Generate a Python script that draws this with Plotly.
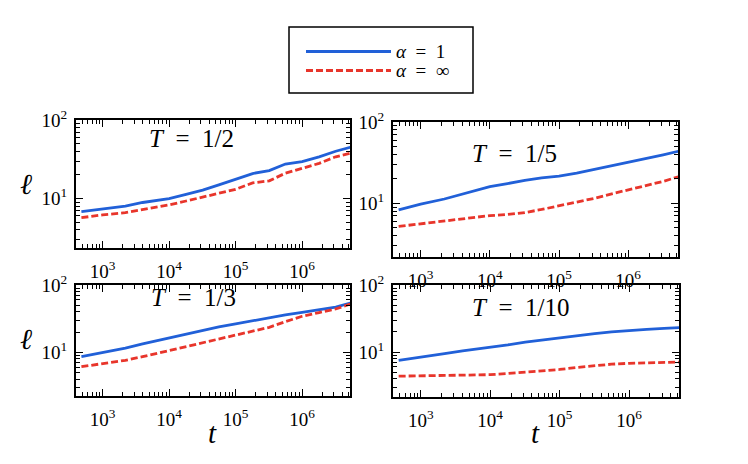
import plotly.graph_objects as go

# shared time grid (t)
t = [480, 1000, 2200, 4000, 10000, 18000, 32000, 56000, 100000, 180000,
     320000, 560000, 1000000, 1800000, 3200000, 5300000]

# T = 1/2
l_half_a1 = [6.8, 7.3, 8.0, 8.9, 10.0, 11.3, 12.8, 14.9, 17.6, 20.8, 22.7, 27.5, 29.5, 34.0, 40.0, 45.0]
l_half_inf = [5.7, 6.2, 6.6, 7.2, 8.3, 9.3, 10.5, 11.6, 13.1, 15.8, 16.8, 21.0, 24.3, 28.0, 34.0, 37.7]
# T = 1/5
l_fifth_a1 = [8.3, 9.8, 11.3, 13.0, 16.0, 17.5, 19.2, 20.5, 21.6, 23.5, 26.0, 29.0, 32.4, 35.5, 39.5, 43.6]
l_fifth_inf = [5.2, 5.6, 6.1, 6.55, 7.06, 7.3, 7.7, 8.4, 9.3, 10.3, 11.5, 13.0, 14.6, 16.3, 18.6, 21.2]
# T = 1/3
l_third_a1 = [8.6, 9.8, 11.5, 13.3, 16.3, 18.5, 21.5, 23.8, 26.4, 29.5, 33.1, 36.0, 39.3, 43.0, 47.0, 54.0]
l_third_inf = [6.1, 6.8, 7.6, 8.6, 10.6, 11.9, 13.6, 15.5, 17.7, 20.2, 23.5, 28.5, 34.3, 39.0, 44.0, 52.2]
# T = 1/10
l_tenth_a1 = [7.5, 8.5, 9.5, 10.4, 11.7, 12.8, 14.1, 15.2, 16.4, 17.6, 18.8, 20.0, 21.1, 21.8, 22.5, 23.2]
l_tenth_inf = [4.37, 4.4, 4.45, 4.5, 4.6, 4.8, 5.0, 5.25, 5.5, 5.9, 6.3, 6.6, 6.8, 6.95, 7.0, 7.08]

SP = "\u2002"
panel_titles = [f"<i>T</i>{SP}={SP}1/2", f"<i>T</i>{SP}={SP}1/5",
                f"<i>T</i>{SP}={SP}1/3", f"<i>T</i>{SP}={SP}1/10"]
series_names = [f"<i>α</i>{SP}={SP}1", f"<i>α</i>{SP}={SP}∞"]
x_tickvals = [1e3, 1e4, 1e5, 1e6]
x_ticktext = ["10<sup>3</sup>", "10<sup>4</sup>", "10<sup>5</sup>", "10<sup>6</sup>"]
y_tickvals = [10, 100]
y_ticktext = ["10<sup>1</sup>", "10<sup>2</sup>"]

BLUE = "#2160d8"
RED = "#e8352b"
FONT = "Liberation Serif"
DASH = "7px,3px"
LW = 2.8

panels = [
    (l_half_a1, l_half_inf),
    (l_fifth_a1, l_fifth_inf),
    (l_third_a1, l_third_inf),
    (l_tenth_a1, l_tenth_inf),
]

fig = go.Figure()
for i, (a1, ainf) in enumerate(panels):
    xa = "x" if i == 0 else f"x{i+1}"
    ya = "y" if i == 0 else f"y{i+1}"
    fig.add_trace(go.Scatter(x=t, y=a1, mode="lines", xaxis=xa, yaxis=ya,
                             line=dict(color=BLUE, width=LW),
                             name=series_names[0], showlegend=False))
    fig.add_trace(go.Scatter(x=t, y=ainf, mode="lines", xaxis=xa, yaxis=ya,
                             line=dict(color=RED, width=LW, dash=DASH),
                             name=series_names[1], showlegend=False))

W, H = 748, 464
def px_x(a, b):
    return [a / W, b / W]
def px_y(top, bottom):
    return [1 - bottom / H, 1 - top / H]

domains = [
    (px_x(76, 350), px_y(120, 248), [0.37, 2]),
    (px_x(393, 678), px_y(122, 257), [0.34, 2]),
    (px_x(76, 350), px_y(285, 396), [0.35, 2]),
    (px_x(393, 679), px_y(285, 397), [0.33, 2]),
]

axis_common = dict(
    type="log", showline=True, linecolor="black", linewidth=2, mirror="ticks",
    ticks="inside", ticklen=7, tickwidth=1.3, tickcolor="black",
    showgrid=False, zeroline=False, automargin=False,
    tickfont=dict(family=FONT, size=19, color="black"),
    minor=dict(ticks="inside", ticklen=4, tickwidth=1, tickcolor="black",
               showgrid=False, dtick="D1"),
)

layout = dict(
    template="none",
    width=W, height=H, margin=dict(l=0, r=0, t=0, b=0, pad=0, autoexpand=False),
    paper_bgcolor="white", plot_bgcolor="white",
    showlegend=False,
)
for i, (dx, dy, yr) in enumerate(domains):
    sx = "" if i == 0 else str(i + 1)
    layout["xaxis" + sx] = dict(axis_common, domain=dx, range=[2.6, 6.72],
                                anchor="y" + sx, tickvals=x_tickvals, ticktext=x_ticktext,
                                ticklabelstandoff=5)
    layout["yaxis" + sx] = dict(axis_common, domain=dy, range=yr,
                                anchor="x" + sx, tickvals=y_tickvals, ticktext=y_ticktext,
                                ticklabelstandoff=3)

fig.update_layout(**layout)

# legend box (drawn in paper coordinates)
fig.add_shape(type="rect", xref="paper", yref="paper",
              x0=289 / W, x1=473 / W, y0=1 - 93 / H, y1=1 - 27 / H,
              line=dict(color="black", width=1.5), fillcolor="white")
for yc, col, dash, name in [(51.5, BLUE, "solid", series_names[0]),
                            (70.5, RED, DASH, series_names[1])]:
    fig.add_shape(type="line", xref="paper", yref="paper",
                  x0=306 / W, x1=391 / W, y0=1 - yc / H, y1=1 - yc / H,
                  line=dict(color=col, width=LW, dash=dash))
    fig.add_annotation(x=394 / W, y=1 - yc / H, xref="paper", yref="paper",
                       text=name, showarrow=False, xanchor="left", yanchor="middle",
                       font=dict(family=FONT, size=19, color="black"))

# panel titles
title_pos = [("x", "y", 4.34, 1.76), ("x2", "y2", 4.355, 1.61),
             ("x3", "y3", 4.36, 1.81), ("x4", "y4", 4.43, 1.66)]
for (xr, yr, xv, yv), txt in zip(title_pos, panel_titles):
    fig.add_annotation(x=xv, y=yv, xref=xr, yref=yr, text=txt, showarrow=False,
                       xanchor="center", yanchor="middle",
                       font=dict(family=FONT, size=25, color="black"))

# axis titles
for yc in [184, 339]:
    fig.add_annotation(x=26 / W, y=1 - yc / H, xref="paper", yref="paper", text="<i>ℓ</i>",
                       showarrow=False, xanchor="center", yanchor="middle",
                       font=dict(family=FONT, size=29, color="black"))
for xc in [213, 535]:
    fig.add_annotation(x=xc / W, y=1 - 433 / H, xref="paper", yref="paper", text="<i>t</i>",
                       showarrow=False, xanchor="center", yanchor="middle",
                       font=dict(family=FONT, size=29, color="black"))

fig.write_html("out.html", config={"displayModeBar": False},
               post_script="document.body.style.margin='0px';document.body.style.overflow='hidden';")
